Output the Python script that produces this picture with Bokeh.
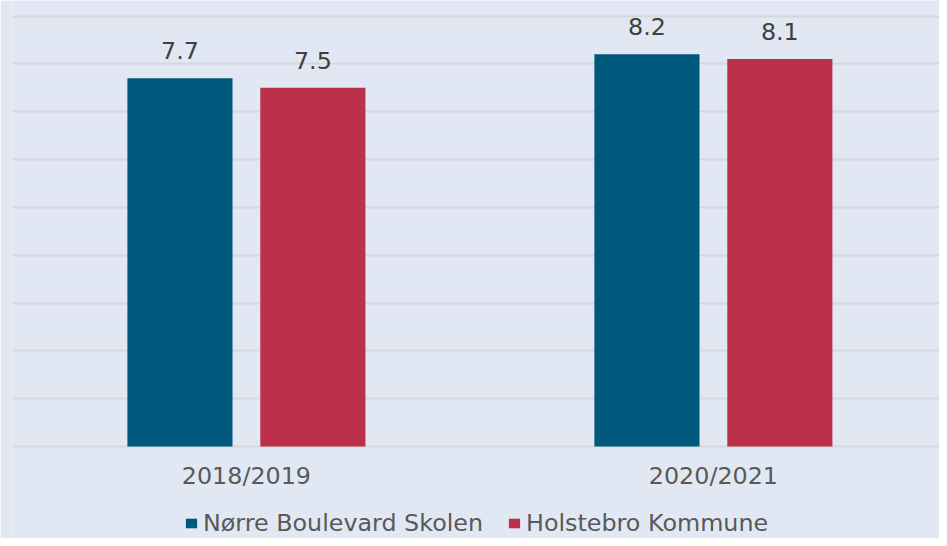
from bokeh.plotting import figure
from bokeh.models import ColumnDataSource, FixedTicker, Legend, LegendItem, Grid
from bokeh.transform import dodge
from bokeh.core.properties import value
from bokeh.embed import file_html
from bokeh.resources import INLINE

# ---- data ----
years = ["2018/2019", "2020/2021"]
skolen = [7.7, 8.2]
kommune = [7.5, 8.1]
series_names = ["Nørre Boulevard Skolen", "Holstebro Kommune"]
grid_values = [0, 1, 2, 3, 4, 5, 6, 7, 8, 9]

BG = "#E1E8F3"
BLUE = "#00587C"
RED = "#BC304A"
GRID = "#D6D8DB"
FONT = "DejaVu Sans"
FS = "23.8px"

idx = list(range(len(years)))
src = ColumnDataSource(dict(
    x=idx,
    zero=[0] * len(idx),
    years=years,
    skolen=skolen,
    kommune=kommune,
    skolen_lbl=[f"{v:.1f}" for v in skolen],
    kommune_lbl=[f"{v:.1f}" for v in kommune],
))

p = figure(width=939, height=538, output_backend="svg", toolbar_location=None,
           x_range=(-0.5009, 1.4842), y_range=(-1.921, 9.325),
           x_axis_location=None, y_axis_location=None,
           min_border_left=12, min_border_right=0,
           min_border_top=0, min_border_bottom=0)
p.background_fill_color = BG
p.border_fill_color = BG
p.outline_line_color = None

# grid lines (value axis hidden, as in the reference)
p.xgrid.visible = False
if len(p.ygrid) == 0:
    g = Grid(dimension=1, ticker=FixedTicker(ticks=grid_values))
    p.add_layout(g)
    ygrids = [g]
else:
    ygrids = list(p.ygrid)
for g in ygrids:
    g.ticker = FixedTicker(ticks=grid_values)
    g.grid_line_color = GRID
    g.grid_line_width = 1.8
    g.level = "underlay"

off = 0.1423
bw = 0.2251
r1 = p.vbar(x=dodge("x", -off), top="skolen", width=bw, source=src,
            fill_color=BLUE, line_color=None)
r2 = p.vbar(x=dodge("x", off), top="kommune", width=bw, source=src,
            fill_color=RED, line_color=None)

# data labels
p.text(x=dodge("x", -off), y="skolen", text="skolen_lbl", source=src,
       text_align="center", text_baseline="middle", y_offset=-27.6,
       text_font=value(FONT), text_font_size=FS, text_color="#404040")
p.text(x=dodge("x", off), y="kommune", text="kommune_lbl", source=src,
       text_align="center", text_baseline="middle", y_offset=-27.6,
       text_font=value(FONT), text_font_size=FS, text_color="#404040")

# category labels under the baseline
p.text(x="x", y="zero", text="years", source=src,
       text_align="center", text_baseline="middle", y_offset=29.8,
       text_font=value(FONT), text_font_size=FS, text_color="#595959")

legend = Legend(items=[LegendItem(label=series_names[0], renderers=[r1]),
                       LegendItem(label=series_names[1], renderers=[r2])],
                orientation="horizontal", location=(172, 1))
legend.background_fill_alpha = 0
legend.border_line_color = None
legend.label_text_font = FONT
legend.label_text_font_size = FS
legend.label_text_color = "#595959"
legend.glyph_width = 14
legend.glyph_height = 12
legend.label_standoff = 5
legend.spacing = 24
legend.padding = 0
legend.margin = 0
p.add_layout(legend, "center")

html = file_html(p, INLINE)
html = html.replace("<body>", '<body style="background:%s">' % BG, 1)
open("out.html", "w").write(html)
